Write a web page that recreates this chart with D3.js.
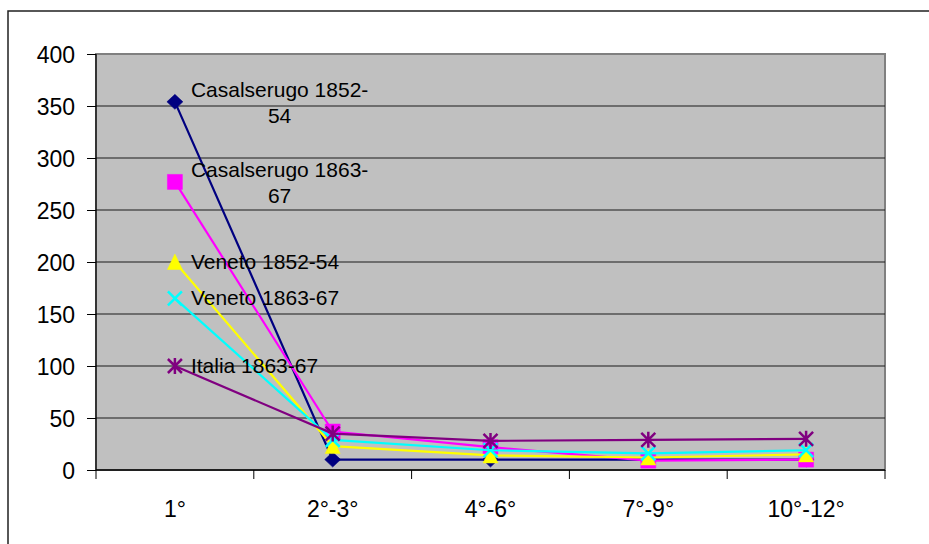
<!DOCTYPE html>
<html>
<head>
<meta charset="utf-8">
<script src="https://cdn.jsdelivr.net/npm/d3@7/dist/d3.min.js"></script>
<style>
  html, body { margin: 0; padding: 0; background: #ffffff; overflow: hidden; }
  svg { display: block; font-family: "Liberation Sans", Arial, sans-serif; }
</style>
</head>
<body>
<svg id="chart" width="929" height="544"></svg>
<script>
// ---- Data ----
const categories = ["1°", "2°-3°", "4°-6°", "7°-9°", "10°-12°"];
const seriesNames = ["Casalserugo 1852-54", "Casalserugo 1863-67", "Veneto 1852-54", "Veneto 1863-67", "Italia 1863-67"];
const casalserugo1852 = [354, 10, 10, 10, 10];
const casalserugo1863 = [277, 37, 22, 9, 10];
const veneto1852 = [200, 23, 14, 12, 15];
const veneto1863 = [165, 29, 19, 16, 19];
const italia1863 = [100, 35, 28, 29, 30];
const yTicks = [0, 50, 100, 150, 200, 250, 300, 350, 400];
// label lines (wrapped as in the original)
const labelLines = [["Casalserugo 1852-", "54"], ["Casalserugo 1863-", "67"], ["Veneto 1852-54"], ["Veneto 1863-67"], ["Italia 1863-67"]];

const seriesValues = [casalserugo1852, casalserugo1863, veneto1852, veneto1863, italia1863];
const colors = ["#000080", "#ff00ff", "#ffff00", "#00ffff", "#800080"];
const markers = ["diamond", "square", "triangle", "x", "star"];

const svg = d3.select("#chart");
const W = 929, H = 544;
const plot = { left: 96, right: 885, top: 54, bottom: 470 };

// outer chart frame (only top and left edges visible)
svg.append("path")
  .attr("d", `M8,${H}V11H${W}`)
  .attr("fill", "none").attr("stroke", "#202020").attr("stroke-width", 1.5);

const x = d3.scaleBand().domain(categories).range([plot.left, plot.right]).padding(0);
const y = d3.scaleLinear().domain([0, 400]).range([plot.bottom, plot.top]);

// plot background
svg.append("rect")
  .attr("x", plot.left).attr("y", plot.top)
  .attr("width", plot.right - plot.left).attr("height", plot.bottom - plot.top)
  .attr("fill", "#c0c0c0").attr("stroke", "#808080").attr("stroke-width", 2);

// gridlines
svg.append("g").selectAll("line").data(yTicks.filter(d => d > 0 && d < 400)).join("line")
  .attr("x1", plot.left).attr("x2", plot.right)
  .attr("y1", d => y(d)).attr("y2", d => y(d))
  .attr("stroke", "#1a1a1a").attr("stroke-width", 1);

// y axis
const yAxis = d3.axisLeft(y).tickValues(yTicks).tickSize(9).tickPadding(12).tickFormat(d3.format("d"));
const gy = svg.append("g").attr("transform", `translate(${plot.left},0)`).call(yAxis);
gy.select(".domain").attr("stroke", "#000").attr("stroke-width", 1.2).attr("d", `M0,${plot.top}V${plot.bottom}`);
gy.selectAll(".tick line").attr("stroke", "#000");
gy.selectAll(".tick text").attr("font-size", 23).attr("fill", "#000")
  .attr("font-family", "'Liberation Sans', Arial, sans-serif").attr("dy", "0.36em");

// x axis: ticks at band boundaries, labels at centers
const boundaries = categories.map(c => x(c)).concat([x(categories[categories.length - 1]) + x.bandwidth()]);
const gx = svg.append("g");
gx.append("line").attr("x1", plot.left).attr("x2", plot.right)
  .attr("y1", plot.bottom).attr("y2", plot.bottom)
  .attr("stroke", "#000").attr("stroke-width", 1.5);
gx.selectAll("line.tick").data(boundaries).join("line").attr("class", "tick")
  .attr("x1", d => d).attr("x2", d => d)
  .attr("y1", plot.bottom).attr("y2", plot.bottom + 9)
  .attr("stroke", "#000").attr("stroke-width", 1);
gx.selectAll("text").data(categories).join("text")
  .attr("x", d => x(d) + x.bandwidth() / 2)
  .attr("y", 517)
  .attr("text-anchor", "middle")
  .attr("font-size", 23)
  .attr("fill", "#000")
  .text(d => d);

const cx = c => x(c) + x.bandwidth() / 2;

function markerPath(type) {
  switch (type) {
    case "diamond": return "M0,-7.5L8,0L0,7.5L-8,0Z";
    case "square": return "M-7.5,-7.5H7.5V7.5H-7.5Z";
    case "triangle": return "M0,-8L7.5,7.5H-7.5Z";
    case "x": return "M-7,-7L7,7M7,-7L-7,7";
    case "star": return "M-7,-7L7,7M7,-7L-7,7M0,-8V8";
  }
}

const line = d3.line().x((d, i) => cx(categories[i])).y(d => y(d));

seriesValues.forEach((vals, si) => {
  const g = svg.append("g");
  g.append("path").datum(vals)
    .attr("d", line).attr("fill", "none")
    .attr("stroke", colors[si]).attr("stroke-width", 2.2);
  const filled = markers[si] === "diamond" || markers[si] === "square" || markers[si] === "triangle";
  g.selectAll("path.m").data(vals).join("path").attr("class", "m")
    .attr("transform", (d, i) => `translate(${cx(categories[i])},${y(d)})`)
    .attr("d", markerPath(markers[si]))
    .attr("fill", filled ? colors[si] : "none")
    .attr("stroke", colors[si])
    .attr("stroke-width", filled ? 0.5 : 2.5);
});

// data labels (series name, right of first point)
seriesValues.forEach((vals, si) => {
  const px = cx(categories[0]) + 16;
  const py = y(vals[0]);
  const lines = labelLines[si];
  const t = svg.append("text").attr("font-size", 21).attr("fill", "#000");
  if (lines.length === 1) {
    t.attr("x", px).attr("y", py + 7).text(lines[0]);
  } else {
    const tmp = t.append("tspan").text(lines[0]);
    const w = t.node().getComputedTextLength();
    tmp.remove();
    const mid = px + w / 2;
    t.attr("text-anchor", "middle");
    t.append("tspan").attr("x", mid).attr("y", py - 5).text(lines[0]);
    t.append("tspan").attr("x", mid).attr("y", py + 21).text(lines[1]);
  }
});
</script>
</body>
</html>
